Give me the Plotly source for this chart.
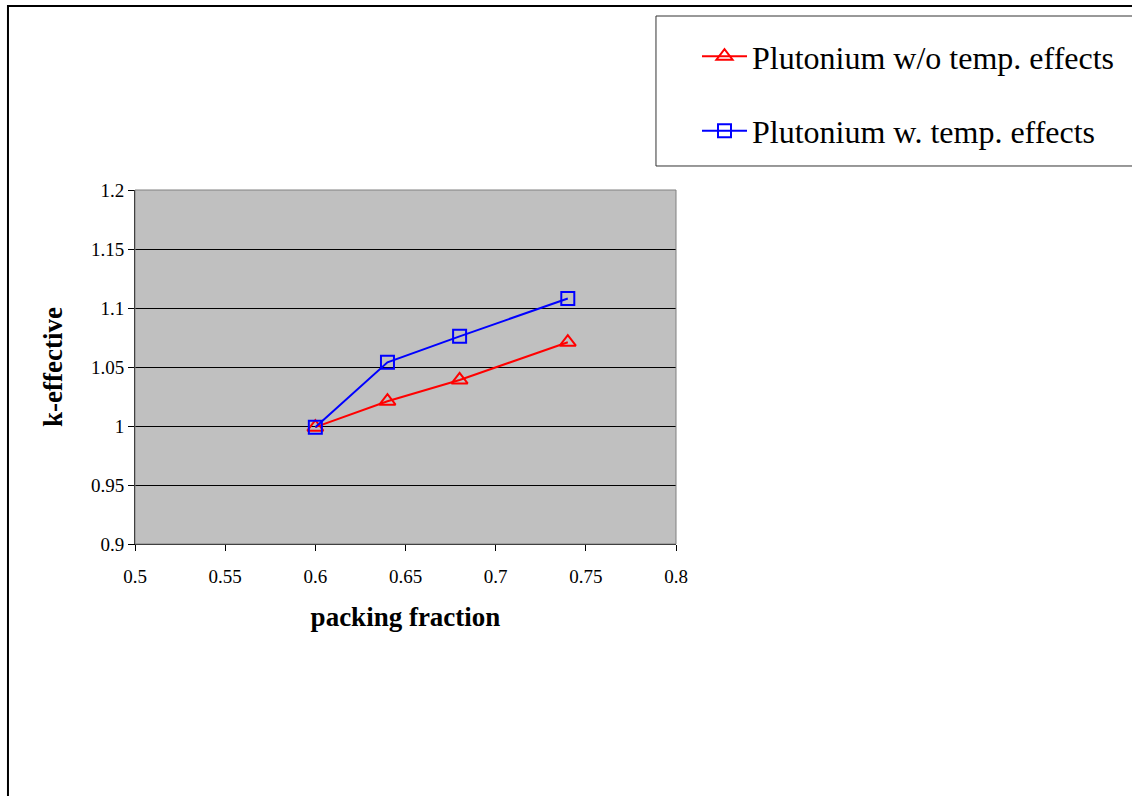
import plotly.graph_objects as go

# packing fraction vs k-effective for plutonium fuel
packing_fraction = [0.60, 0.64, 0.68, 0.74]
k_no_temp = [0.999, 1.021, 1.039, 1.071]
k_with_temp = [0.999, 1.054, 1.076, 1.108]

series_names = ["Plutonium w/o temp. effects", "Plutonium w. temp. effects"]

x_tick_vals = [0.5, 0.55, 0.6, 0.65, 0.7, 0.75, 0.8]
x_tick_text = ["0.5", "0.55", "0.6", "0.65", "0.7", "0.75", "0.8"]
y_tick_vals = [0.9, 0.95, 1.0, 1.05, 1.1, 1.15, 1.2]
y_tick_text = ["0.9", "0.95", "1", "1.05", "1.1", "1.15", "1.2"]

SERIF = "Liberation Serif, Times New Roman, serif"

fig = go.Figure()
fig.add_trace(go.Scatter(
    x=packing_fraction, y=k_no_temp, name=series_names[0],
    mode="lines+markers", legendgroup="a",
    line=dict(color="#FF0000", width=2),
    marker=dict(symbol="triangle-up-open", size=14, color="#FF0000",
                line=dict(width=2, color="#FF0000")),
))
fig.add_trace(go.Scatter(
    x=packing_fraction, y=k_with_temp, name=series_names[1],
    mode="lines+markers", legendgroup="b",
    line=dict(color="#0000FF", width=2),
    marker=dict(symbol="square-open", size=13, color="#0000FF",
                line=dict(width=2, color="#0000FF")),
))

# outer chart frame, legend frame and grey plot-area border
fig.add_shape(type="rect", xref="paper", yref="paper",
              x0=-0.2348, x1=2.5, y0=-2.0, y1=1.5198,
              line=dict(color="#000000", width=2), layer="below")
fig.add_shape(type="rect", xref="paper", yref="paper",
              x0=0.963, x1=2.5, y0=1.0678, y1=1.4915,
              line=dict(color="#333333", width=1), layer="below")
fig.add_shape(type="rect", xref="paper", yref="paper",
              x0=0, x1=1, y0=0, y1=1,
              line=dict(color="#808080", width=1), layer="above")

fig.update_layout(
    width=1132, height=796,
    margin=dict(l=135, r=456, t=190, b=252, autoexpand=False),
    paper_bgcolor="#FFFFFF",
    plot_bgcolor="#C0C0C0",
    font=dict(family=SERIF, color="#000000", size=19),
    showlegend=True,
    legend=dict(
        x=(697 - 135) / 541, y=1.455, xanchor="left", yanchor="top",
        font=dict(family=SERIF, size=32, color="#000000"),
        borderwidth=0, bgcolor="rgba(0,0,0,0)",
        traceorder="grouped", tracegroupgap=30, itemwidth=45,
    ),
    xaxis=dict(
        range=[0.5, 0.8], tickvals=x_tick_vals, ticktext=x_tick_text,
        showgrid=False, zeroline=False,
        showline=True, linecolor="#000000", linewidth=1,
        ticks="outside", ticklen=6, tickcolor="#000000",
        tickfont=dict(family=SERIF, size=19), ticklabelstandoff=9,
        title=dict(text="<b>packing fraction</b>",
                   font=dict(family=SERIF, size=27), standoff=21),
    ),
    yaxis=dict(
        range=[0.9, 1.2], tickvals=y_tick_vals, ticktext=y_tick_text,
        showgrid=True, gridcolor="#000000", gridwidth=1, zeroline=False,
        showline=True, linecolor="#000000", linewidth=1,
        ticks="outside", ticklen=6, tickcolor="#000000",
        tickfont=dict(family=SERIF, size=19),
        title=dict(text="<b>k-effective</b>",
                   font=dict(family=SERIF, size=27), standoff=20),
    ),
)

fig.write_html("out.html")
